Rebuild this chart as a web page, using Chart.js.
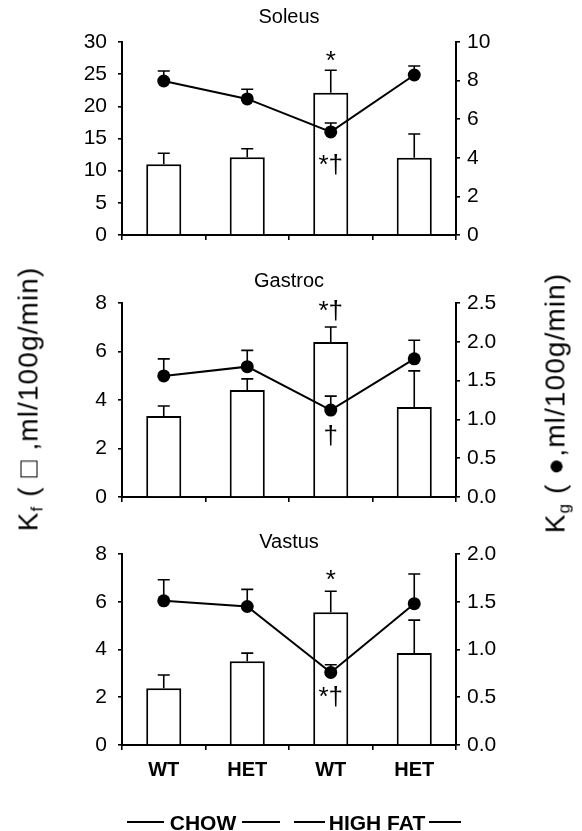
<!DOCTYPE html>
<html>
<head>
<meta charset="utf-8">
<script src="https://cdn.jsdelivr.net/npm/chart.js@4/dist/chart.umd.min.js"></script>
<style>
  html, body { margin:0; padding:0; background:#fff; }
  body { width:582px; height:831px; position:relative; overflow:hidden; font-family:"Liberation Sans", Arial, sans-serif; color:#000; }
  canvas { position:absolute; left:0; }
  .ytitle { position:absolute; white-space:nowrap; transform:translate(-50%,-50%) rotate(-90deg); font-size:28px; line-height:1; letter-spacing:1.1px; }
  .ytitle sub { font-size:17px; vertical-align:-5px; }
  .grp { position:absolute; font-weight:bold; font-size:21px; line-height:1; transform:translate(-50%,-50%); white-space:nowrap; }
  .ln { position:absolute; height:2px; background:#000; }
</style>
</head>
<body>
<canvas id="c1" width="582" height="270" style="top:0px"></canvas>
<canvas id="c2" width="582" height="280" style="top:250px"></canvas>
<canvas id="c3" width="582" height="321" style="top:510px"></canvas>

<div class="ytitle" style="left:30px; top:399px;">K<sub>f</sub> ( □ ,ml/100g/min)</div>
<div class="ytitle" style="left:557px; top:403px;">K<sub>g</sub> ( ●,ml/100g/min)</div>

<div class="ln" style="left:127px; width:37px; top:821px;"></div>
<div class="grp" style="left:203px; top:822px;">CHOW</div>
<div class="ln" style="left:242px; width:38px; top:821px;"></div>
<div class="ln" style="left:294px; width:31px; top:821px;"></div>
<div class="grp" style="left:377px; top:822px;">HIGH FAT</div>
<div class="ln" style="left:429px; width:32px; top:821px;"></div>

<script>
// ---------- data ----------
const categories = ['WT', 'HET', 'WT', 'HET'];

const soleusTitle = 'Soleus';
const soleusKf    = [11.0, 12.1, 22.1, 12.0];
const soleusKfErr = [1.7, 1.3, 3.5, 3.7];
const soleusKg    = [7.98, 7.05, 5.34, 8.29];
const soleusKgErr = [0.52, 0.50, 0.46, 0.47];
const soleusLeftTicks  = ['0', '5', '10', '15', '20', '25', '30'];
const soleusRightTicks = ['0', '2', '4', '6', '8', '10'];
const soleusMarks = [
  { index: 2, on: 'bar',  text: '*' },
  { index: 2, on: 'line', text: '*†' }
];

const gastrocTitle = 'Gastroc';
const gastrocKf    = [3.34, 4.41, 6.39, 3.71];
const gastrocKfErr = [0.41, 0.46, 0.62, 1.49];
const gastrocKg    = [1.56, 1.68, 1.12, 1.78];
const gastrocKgErr = [0.22, 0.21, 0.18, 0.24];
const gastrocLeftTicks  = ['0', '2', '4', '6', '8'];
const gastrocRightTicks = ['0.0', '0.5', '1.0', '1.5', '2.0', '2.5'];
const gastrocMarks = [
  { index: 2, on: 'bar',  text: '*†' },
  { index: 2, on: 'line', text: '†' }
];

const vastusTitle = 'Vastus';
const vastusKf    = [2.38, 3.51, 5.56, 3.85];
const vastusKfErr = [0.55, 0.34, 0.88, 1.38];
const vastusKg    = [1.51, 1.45, 0.76, 1.48];
const vastusKgErr = [0.22, 0.18, 0.08, 0.31];
const vastusLeftTicks  = ['0', '2', '4', '6', '8'];
const vastusRightTicks = ['0.0', '0.5', '1.0', '1.5', '2.0'];
const vastusMarks = [
  { index: 2, on: 'bar',  text: '*' },
  { index: 2, on: 'line', text: '*†' }
];

// ---------- rendering ----------
Chart.defaults.font.family = '"Liberation Sans", Arial, sans-serif';
Chart.defaults.color = '#000';

const FONT = '"Liberation Sans", Arial, sans-serif';

const extrasPlugin = {
  id: 'panelExtras',
  afterDatasetsDraw(chart, args, o) {
    const ctx = chart.ctx;
    const yL = chart.scales.y, yR = chart.scales.y2;
    const lineMeta = chart.getDatasetMeta(0);
    const barMeta = chart.getDatasetMeta(1);
    ctx.save();
    ctx.strokeStyle = '#000';
    ctx.lineWidth = 1.6;
    const cap = 6;
    o.kf.forEach((v, i) => {
      const x = barMeta.data[i].x;
      const y0 = yL.getPixelForValue(v);
      const y1 = yL.getPixelForValue(v + o.kfErr[i]);
      ctx.beginPath();
      ctx.moveTo(x, y0); ctx.lineTo(x, y1);
      ctx.moveTo(x - cap, y1); ctx.lineTo(x + cap, y1);
      ctx.stroke();
    });
    o.kg.forEach((v, i) => {
      const x = lineMeta.data[i].x;
      const y0 = yR.getPixelForValue(v);
      const y1 = yR.getPixelForValue(v + o.kgErr[i]);
      ctx.beginPath();
      ctx.moveTo(x, y0); ctx.lineTo(x, y1);
      ctx.moveTo(x - cap, y1); ctx.lineTo(x + cap, y1);
      ctx.stroke();
    });
    ctx.fillStyle = '#000';
    ctx.textAlign = 'center';
    ctx.textBaseline = 'middle';
    ctx.font = '26px ' + FONT;
    o.marks.forEach(m => {
      const i = m.index;
      let x, y;
      if (m.on === 'bar') {
        x = barMeta.data[i].x;
        y = yL.getPixelForValue(o.kf[i] + o.kfErr[i]) - o.aboveGap;
      } else {
        x = lineMeta.data[i].x;
        y = yR.getPixelForValue(o.kg[i]) + o.belowGap;
      }
      ctx.fillText(m.text, x, y);
    });
    const ca = chart.chartArea;
    ctx.font = '20px ' + FONT;
    ctx.fillText(o.title, (ca.left + ca.right) / 2, ca.top - o.titleGap);
    ctx.restore();
  }
};

function makePanel(id, cfg) {
  const canvas = document.getElementById(id);
  const H = canvas.height;
  const leftVals = cfg.leftTicks.map(Number);
  const rightVals = cfg.rightTicks.map(Number);
  const axisGrid = { drawOnChartArea: false, drawTicks: true, tickLength: 4, color: '#000', lineWidth: 1.6 };
  new Chart(canvas, {
    data: {
      labels: categories,
      datasets: [
        {
          type: 'line', data: cfg.kg, yAxisID: 'y2', order: 0,
          borderColor: '#000', borderWidth: 2, backgroundColor: '#000',
          pointRadius: 6.5, pointBackgroundColor: '#000', pointBorderColor: '#000', pointBorderWidth: 0,
          tension: 0
        },
        {
          type: 'bar', data: cfg.kf, yAxisID: 'y', order: 1,
          backgroundColor: '#fff', borderColor: '#000', borderWidth: 2,
          categoryPercentage: 0.84, barPercentage: 0.5
        }
      ]
    },
    options: {
      responsive: false, animation: false, events: [],
      layout: { padding: { top: cfg.top, left: 0, right: 0, bottom: 0 } },
      plugins: {
        legend: { display: false }, tooltip: { enabled: false }, title: { display: false },
        panelExtras: {
          title: cfg.title, titleGap: cfg.titleGap, aboveGap: cfg.aboveGap, belowGap: cfg.belowGap,
          kf: cfg.kf, kfErr: cfg.kfErr, kg: cfg.kg, kgErr: cfg.kgErr, marks: cfg.marks
        }
      },
      scales: {
        x: {
          offset: true,
          grid: { display: true, offset: true, drawOnChartArea: false, drawTicks: true, tickLength: 5, color: '#000', lineWidth: 1.6 },
          border: { display: true, color: '#000', width: 2 },
          ticks: { display: cfg.showX, font: { size: 20, weight: 'bold' }, padding: 8, color: '#000' },
          afterFit: s => { s.height = H - cfg.bottom; }
        },
        y: {
          position: 'left', min: 0, max: leftVals[leftVals.length - 1],
          grid: axisGrid,
          border: { display: true, color: '#000', width: 2 },
          ticks: { font: { size: 21 }, padding: 11, color: '#000',
                   callback: (v) => cfg.leftTicks[leftVals.indexOf(v)] ?? '' },
          afterBuildTicks: s => { s.ticks = leftVals.map(v => ({ value: v })); },
          afterFit: s => { s.width = 122; }
        },
        y2: {
          position: 'right', min: 0, max: rightVals[rightVals.length - 1],
          grid: axisGrid,
          border: { display: true, color: '#000', width: 2 },
          ticks: { font: { size: 21 }, padding: 7, color: '#000',
                   callback: (v) => cfg.rightTicks[rightVals.indexOf(v)] ?? '' },
          afterBuildTicks: s => { s.ticks = rightVals.map(v => ({ value: v })); },
          afterFit: s => { s.width = 126; }
        }
      }
    },
    plugins: [extrasPlugin]
  });
}

makePanel('c1', {
  title: soleusTitle, kf: soleusKf, kfErr: soleusKfErr, kg: soleusKg, kgErr: soleusKgErr,
  leftTicks: soleusLeftTicks, rightTicks: soleusRightTicks, marks: soleusMarks,
  top: 42, bottom: 235, titleGap: 25, aboveGap: 8, belowGap: 34, showX: false
});
makePanel('c2', {
  title: gastrocTitle, kf: gastrocKf, kfErr: gastrocKfErr, kg: gastrocKg, kgErr: gastrocKgErr,
  leftTicks: gastrocLeftTicks, rightTicks: gastrocRightTicks, marks: gastrocMarks,
  top: 53, bottom: 247, titleGap: 22, aboveGap: 15, belowGap: 27, showX: false
});
makePanel('c3', {
  title: vastusTitle, kf: vastusKf, kfErr: vastusKfErr, kg: vastusKg, kgErr: vastusKgErr,
  leftTicks: vastusLeftTicks, rightTicks: vastusRightTicks, marks: vastusMarks,
  top: 44, bottom: 235, titleGap: 12, aboveGap: 10, belowGap: 25, showX: true
});
</script>
</body>
</html>
